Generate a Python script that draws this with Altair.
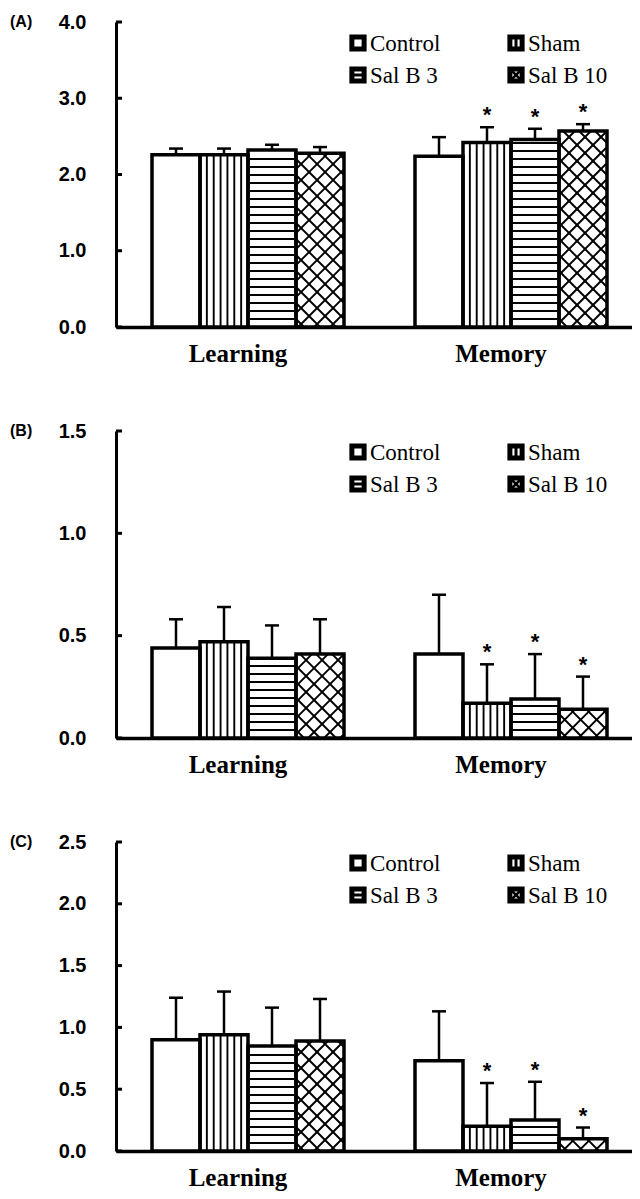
import altair as alt
import pandas as pd

# ---------------- data ----------------
groups = ["Learning", "Memory"]
series = ["Control", "Sham", "Sal B 3", "Sal B 10"]
panel_ids = ["(A)", "(B)", "(C)"]
y_max = [4.0, 1.5, 2.5]
y_ticks = [[0.0, 1.0, 2.0, 3.0, 4.0], [0.0, 0.5, 1.0, 1.5], [0.0, 0.5, 1.0, 1.5, 2.0, 2.5]]

# panel A
A_learning_mean = [2.26, 2.26, 2.32, 2.28]
A_learning_sd = [0.08, 0.08, 0.07, 0.08]
A_memory_mean = [2.24, 2.42, 2.46, 2.57]
A_memory_sd = [0.25, 0.20, 0.14, 0.09]
# panel B
B_learning_mean = [0.44, 0.47, 0.39, 0.41]
B_learning_sd = [0.14, 0.17, 0.16, 0.17]
B_memory_mean = [0.41, 0.17, 0.19, 0.14]
B_memory_sd = [0.29, 0.19, 0.22, 0.16]
# panel C
C_learning_mean = [0.90, 0.94, 0.85, 0.89]
C_learning_sd = [0.34, 0.35, 0.31, 0.34]
C_memory_mean = [0.73, 0.20, 0.25, 0.10]
C_memory_sd = [0.40, 0.35, 0.31, 0.09]

significant_memory = [False, True, True, True]

means = [[A_learning_mean, A_memory_mean], [B_learning_mean, B_memory_mean], [C_learning_mean, C_memory_mean]]
sds = [[A_learning_sd, A_memory_sd], [B_learning_sd, B_memory_sd], [C_learning_sd, C_memory_sd]]

# ---------------- layout (pixels) ----------------
PLOT_W = 516
HEIGHTS = [305, 307, 309]
GROUP_START = [36, 299]
BW = 48
CAP = 7
LEG_X = [242, 400]
LEG_Y = [21, 53]


def clip_diag(bw, h, step):
    segs = []
    c = -h
    while c < bw:
        lo, hi = max(0.0, c), min(bw, c + h)
        if hi - lo > 0.5:
            segs.append((lo, lo - c, hi, hi - c))
        c += step
    c = step / 2
    while c < bw + h:
        lo, hi = max(0.0, c - h), min(bw, c)
        if hi - lo > 0.5:
            segs.append((lo, c - lo, hi, c - hi))
        c += step
    return segs


def panel(i):
    ymax = y_max[i]
    H = HEIGHTS[i]
    ppu = H / ymax
    rows, hatch = [], []
    for gi, g in enumerate(groups):
        for si, s in enumerate(series):
            m = means[i][gi][si]
            sd = sds[i][gi][si]
            x0 = GROUP_START[gi] + si * BW
            x1 = x0 + BW
            rows.append(dict(group=g, series=s, x0=x0, x1=x1, xc=(x0 + x1) / 2,
                             cl=(x0 + x1) / 2 - CAP, cr=(x0 + x1) / 2 + CAP,
                             mean=m, top=m + sd, zero=0.0,
                             sig="*" if (gi == 1 and significant_memory[si]) else ""))
            hpx = m * ppu
            if s == "Sham":
                for k in range(1, 7):
                    xx = x0 + k * BW / 7
                    hatch.append(dict(x=xx, x2=xx, y=0.0, y2=m))
            elif s == "Sal B 3":
                yp = 8.0
                while yp < hpx - 2:
                    hatch.append(dict(x=x0, x2=x1, y=yp / ppu, y2=yp / ppu))
                    yp += 8.0
            elif s == "Sal B 10":
                for (u0, v0, u1, v1) in clip_diag(BW, hpx, 16.0):
                    hatch.append(dict(x=x0 + u0, x2=x0 + u1, y=v0 / ppu, y2=v1 / ppu))
    bars = pd.DataFrame(rows)
    hatch = pd.DataFrame(hatch)
    ticks = pd.DataFrame({"v": y_ticks[i]})

    xs = alt.Scale(domain=[0, PLOT_W], nice=False, zero=False)
    ys = alt.Scale(domain=[0, ymax], nice=False, zero=True)

    def X(f):
        return alt.X(f, scale=xs, title=None)

    def Y(f):
        return alt.Y(f, scale=ys, title=None)

    base_rect = alt.Chart(bars).mark_rect(fill="white", stroke=None).encode(
        x=alt.X("x0:Q", scale=xs, title=None,
                axis=alt.Axis(domain=True, domainColor="black", domainWidth=3.5,
                              ticks=False, labels=False, grid=False, title=None)),
        x2="x1:Q",
        y=alt.Y("zero:Q", scale=ys, title=None,
                axis=alt.Axis(values=y_ticks[i], format=".1f", domain=True,
                              domainColor="black", domainWidth=3, ticks=False,
                              grid=False, title=None, labelFont="Liberation Sans",
                              labelFontSize=20, labelFontWeight="bold",
                              labelColor="black", labelPadding=30)),
        y2="mean:Q",
    )
    hatch_layer = alt.Chart(hatch).mark_rule(color="black", strokeWidth=1.9).encode(
        x=X("x:Q"), x2="x2:Q", y=Y("y:Q"), y2="y2:Q",
    )
    outline = alt.Chart(bars).mark_rect(fill="white", fillOpacity=0, stroke="black", strokeWidth=3.5).encode(
        x=X("x0:Q"), x2="x1:Q", y=Y("zero:Q"), y2="mean:Q",
    )
    err = alt.Chart(bars).mark_rule(color="black", strokeWidth=2.5).encode(
        x=X("xc:Q"), y=Y("mean:Q"), y2="top:Q",
    )
    caps = alt.Chart(bars).mark_rule(color="black", strokeWidth=2.5).encode(
        x=X("cl:Q"), x2="cr:Q", y=Y("top:Q"),
    )
    stars = alt.Chart(bars).mark_text(font="Liberation Sans", fontSize=22, fontWeight="bold",
                                      baseline="middle", dy=-12, color="black").encode(
        x=X("xc:Q"), y=Y("top:Q"), text="sig:N",
    )
    tick_layer = alt.Chart(ticks).mark_rule(color="black", strokeWidth=3).encode(
        x=alt.value(0), x2=alt.value(6), y=Y("v:Q"),
    )
    cat_df = pd.DataFrame({"group": groups,
                           "xc": [GROUP_START[k] + 2 * BW for k in range(len(groups))]})
    cats = alt.Chart(cat_df).mark_text(font="Liberation Serif", fontSize=25, fontWeight="bold",
                                       baseline="middle", dx=-10, color="black").encode(
        x=X("xc:Q"), y=alt.value(H + 27), text="group:N",
    )
    pid = alt.Chart(pd.DataFrame({"t": [panel_ids[i]]})).mark_text(
        font="Liberation Sans", fontSize=16, fontWeight="bold", align="left", baseline="middle",
        color="black").encode(x=alt.value(-106), y=alt.value(0), text="t:N")

    # legend
    leg = pd.DataFrame({
        "series": series,
        "lx": [LEG_X[0], LEG_X[1], LEG_X[0], LEG_X[1]],
        "ly": [LEG_Y[0], LEG_Y[0], LEG_Y[1], LEG_Y[1]],
    })
    leg["tx"] = leg["lx"] + 12
    leg_layers = []
    for _, r in leg.iterrows():
        one = pd.DataFrame([r])
        lx, ly = float(r.lx), float(r.ly)
        leg_layers.append(alt.Chart(one).mark_square(size=150, fill="white", stroke="black",
                                                    strokeWidth=5, opacity=1).encode(
            x=alt.value(lx), y=alt.value(ly)))
        if r.series == "Sham":
            leg_layers.append(alt.Chart(one).mark_rule(color="black", strokeWidth=3).encode(
                x=alt.value(lx), y=alt.value(ly - 6), y2=alt.value(ly + 6)))
        elif r.series == "Sal B 3":
            leg_layers.append(alt.Chart(one).mark_rule(color="black", strokeWidth=3).encode(
                y=alt.value(ly), x=alt.value(lx - 6), x2=alt.value(lx + 6)))
        elif r.series == "Sal B 10":
            leg_layers.append(alt.Chart(one).mark_rule(color="black", strokeWidth=2.5).encode(
                x=alt.value(lx - 5), x2=alt.value(lx + 5), y=alt.value(ly - 5), y2=alt.value(ly + 5)))
            leg_layers.append(alt.Chart(one).mark_rule(color="black", strokeWidth=2.5).encode(
                x=alt.value(lx - 5), x2=alt.value(lx + 5), y=alt.value(ly + 5), y2=alt.value(ly - 5)))
        leg_layers.append(alt.Chart(one).mark_text(font="Liberation Serif", fontSize=23, align="left",
                                                   baseline="middle", color="black").encode(
            x=alt.value(float(r.tx)), y=alt.value(ly + 1), text="series:N"))

    return alt.layer(base_rect, hatch_layer, outline, err, caps, stars, tick_layer, cats, pid,
                     *leg_layers).properties(width=PLOT_W, height=H)


chart = alt.vconcat(panel(0), panel(1), panel(2), spacing=54).properties(
    padding={"left": 2, "top": 4, "right": 0, "bottom": 0}
).configure_view(stroke=None).configure_axis(grid=False, title=None)

chart.save("out.html", embed_options={"renderer": "svg", "actions": False})
